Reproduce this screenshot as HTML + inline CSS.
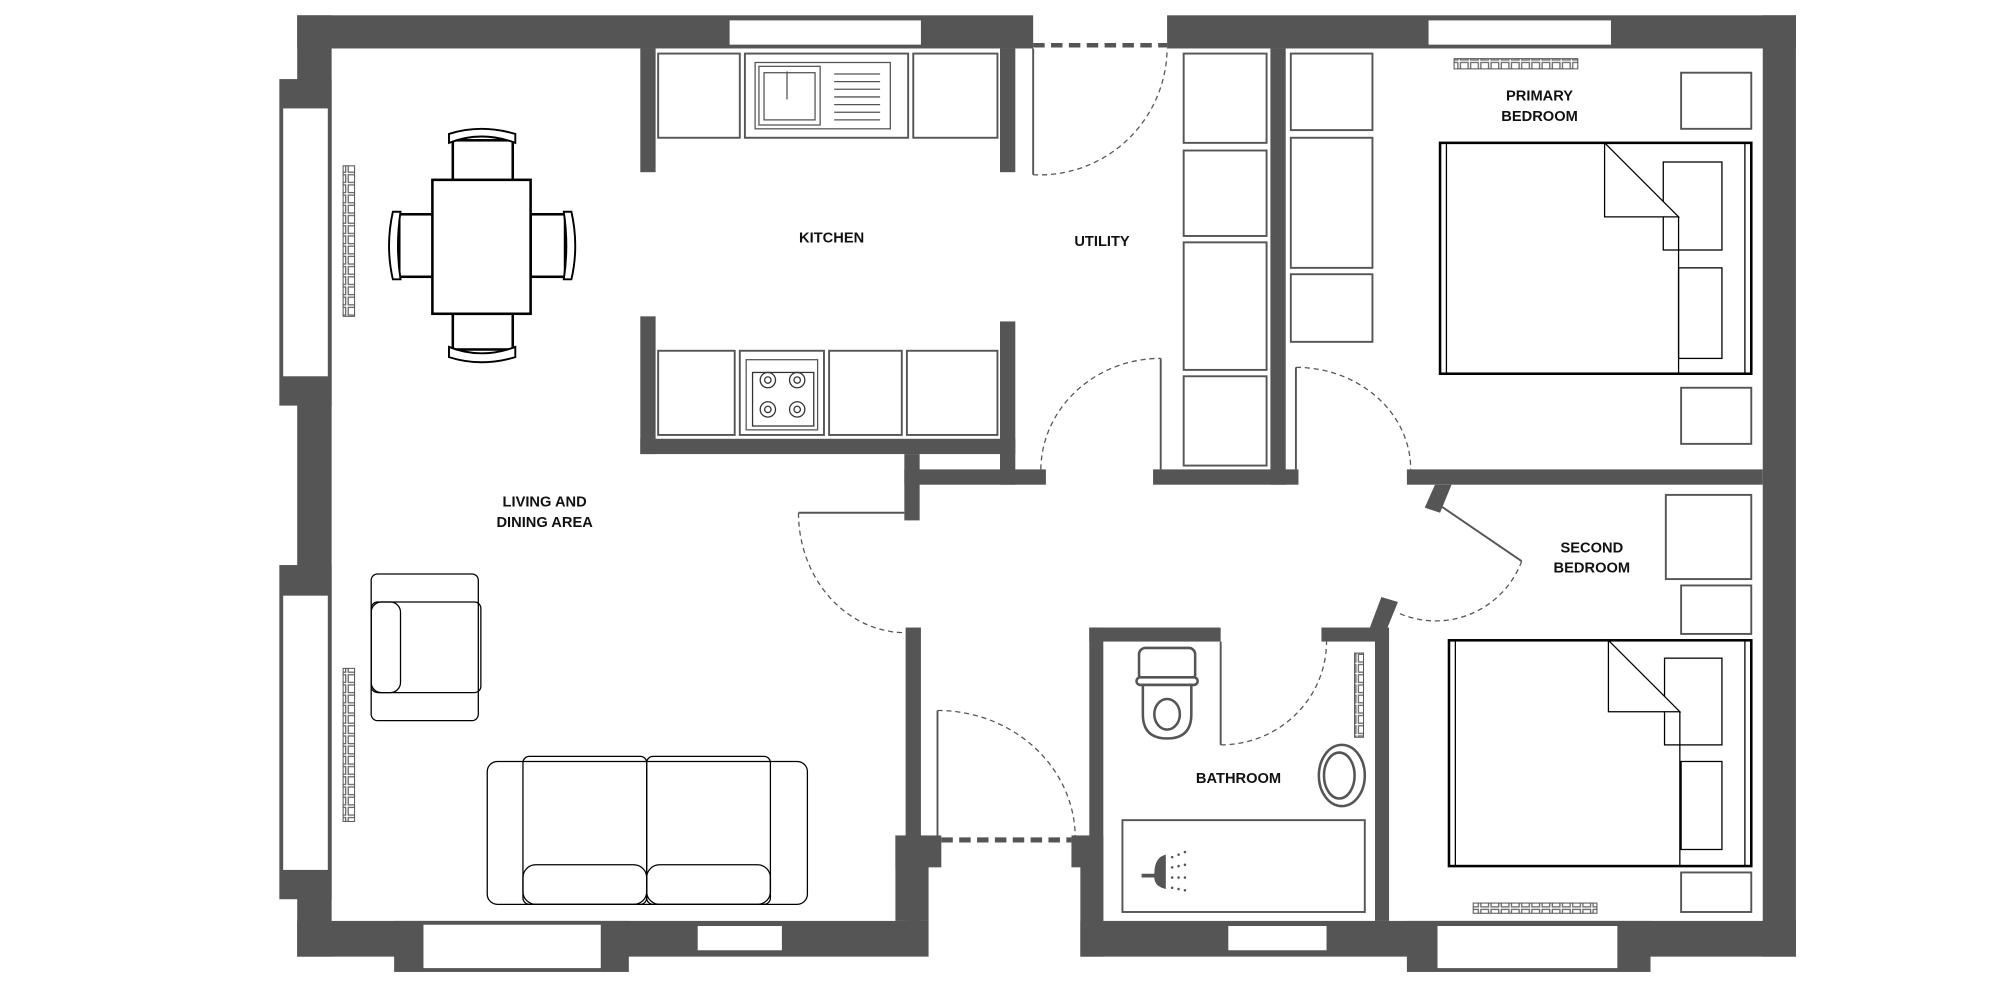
<!DOCTYPE html>
<html><head><meta charset="utf-8"><style>
html,body{margin:0;padding:0;background:#fff;width:2000px;height:1000px;overflow:hidden}
svg{display:block}
text{font-family:"Liberation Sans",sans-serif;font-weight:bold;font-size:11.5px;fill:#111;text-anchor:middle}
</style></head><body>
<svg width="2000" height="1000" viewBox="0 0 1568 784" preserveAspectRatio="none">
<defs>
<pattern id="rad" width="8" height="8" patternUnits="userSpaceOnUse"><rect x="1" y="1" width="6" height="6" fill="none" stroke="#666" stroke-width="1"/></pattern>
</defs>
<g fill="#555">
<!-- outer walls -->
<rect x="233" y="12" width="577" height="26"/>
<rect x="915" y="12" width="493" height="26"/>
<rect x="233" y="12" width="27" height="738"/>
<rect x="219" y="62" width="41" height="256"/>
<rect x="219" y="443" width="41" height="262"/>
<rect x="233" y="722" width="495" height="28"/>
<rect x="309" y="722" width="184" height="40"/>
<rect x="1382" y="12" width="26" height="738"/>
<rect x="847" y="722" width="561" height="28"/>
<rect x="1103" y="722" width="191" height="40"/>
<!-- interior -->
<rect x="502" y="38" width="12" height="97"/>
<rect x="502" y="248" width="12" height="108"/>
<rect x="502" y="344" width="294" height="12"/>
<rect x="784" y="38" width="12" height="97"/>
<rect x="784" y="252" width="12" height="128"/>
<rect x="709" y="356" width="12" height="52"/>
<rect x="709" y="368" width="111" height="12"/>
<rect x="710" y="492" width="12" height="230"/>
<rect x="702" y="655" width="36" height="25"/>
<rect x="702" y="655" width="26" height="67"/>
<rect x="840" y="655" width="15" height="25"/>
<rect x="847" y="655" width="18" height="95"/>
<rect x="854" y="492" width="11" height="230"/>
<rect x="854" y="492" width="103" height="11"/>
<rect x="1036" y="492" width="53" height="11"/>
<rect x="1078" y="492" width="11" height="230"/>
<polygon points="1083,468 1096,472 1087,494 1074,492"/>
<rect x="1103" y="368" width="279" height="12"/>
<polygon points="1125,380 1138,380 1129,402 1117,398"/>
<rect x="996" y="38" width="12" height="342"/>
<rect x="904" y="368" width="114" height="12"/>
</g>
<g fill="#fff">
<rect x="222" y="85" width="35" height="210"/>
<rect x="222" y="467" width="35" height="215"/>
<rect x="332" y="725" width="139" height="34"/>
<rect x="547" y="726" width="66" height="19"/>
<rect x="963" y="726" width="77" height="19"/>
<rect x="1127" y="726" width="141" height="33"/>
<rect x="572" y="16" width="150" height="19"/>
<rect x="1120" y="16" width="143" height="19"/>
</g>
<!-- doors -->
<g fill="none" stroke="#555">
<line x1="810" y1="35.5" x2="915" y2="35.5" stroke-width="3.5" stroke-dasharray="9,5"/>
<line x1="738" y1="658.5" x2="840" y2="658.5" stroke-width="4" stroke-dasharray="9,5"/>
<g stroke-width="1" stroke-dasharray="4,3">
<path d="M810,137 A100,100 0 0 0 915,38"/>
<path d="M626,402 A84,94 0 0 0 709,496"/>
<path d="M735,557 A108,100 0 0 1 843,657"/>
<path d="M816,368 A94,88 0 0 1 910,281"/>
<path d="M1016,288 A90,80 0 0 1 1106,368"/>
<path d="M1193,440 A72,72 0 0 1 1095,480"/>
<path d="M957,584 A83,81 0 0 0 1040,503"/>
</g>
<g stroke-width="1.5">
<line x1="810" y1="38" x2="810" y2="137"/>
<line x1="626" y1="402" x2="709" y2="402"/>
<line x1="735" y1="557" x2="735" y2="657"/>
<line x1="910" y1="281" x2="910" y2="368"/>
<line x1="1016" y1="288" x2="1016" y2="368"/>
<line x1="1130" y1="397" x2="1193" y2="440"/>
<line x1="957" y1="503" x2="957" y2="584"/>
</g>
</g>
<!-- cabinets -->
<g fill="none" stroke="#555" stroke-width="1.5">
<rect x="516" y="42" width="64" height="66"/><rect x="584" y="42" width="128" height="66"/><rect x="716" y="42" width="66" height="66"/>
<rect x="592" y="49" width="106" height="52" stroke-width="1"/><rect x="595" y="52" width="48" height="46" stroke-width="1"/><rect x="599" y="57" width="40" height="37" stroke-width="1"/>
<rect x="516" y="275" width="60" height="66"/><rect x="580" y="275" width="66" height="66"/><rect x="650" y="275" width="57" height="66"/><rect x="711" y="275" width="71" height="66"/>
<rect x="585" y="282" width="56" height="55" stroke-width="1"/>
<rect x="928" y="42" width="65" height="70"/><rect x="928" y="118" width="65" height="67"/><rect x="928" y="190" width="65" height="100"/><rect x="928" y="295" width="65" height="70"/>
<rect x="1012" y="42" width="64" height="60"/><rect x="1012" y="108" width="64" height="102"/><rect x="1012" y="215" width="64" height="53"/>
<rect x="1318" y="57" width="55" height="44"/><rect x="1318" y="304" width="55" height="44"/>
<rect x="1306" y="388" width="67" height="66"/><rect x="1318" y="459" width="55" height="38"/><rect x="1318" y="684" width="55" height="31"/>
<rect x="880" y="643" width="190" height="72"/>
</g>
<g stroke="#555" stroke-width="1">
<line x1="654" y1="58" x2="690" y2="58"/><line x1="654" y1="64" x2="690" y2="64"/><line x1="654" y1="70" x2="690" y2="70"/><line x1="654" y1="76" x2="690" y2="76"/><line x1="654" y1="82" x2="690" y2="82"/><line x1="654" y1="88" x2="690" y2="88"/><line x1="654" y1="94" x2="690" y2="94"/>
<line x1="617" y1="56" x2="617" y2="78"/>
</g>
<g fill="none" stroke="#333" stroke-width="1">
<rect x="590" y="292" width="48" height="42"/>
<circle cx="602" cy="298" r="6"/><circle cx="625" cy="298" r="6"/><circle cx="602" cy="321" r="6"/><circle cx="625" cy="321" r="6"/>
<circle cx="602" cy="298" r="2.5"/><circle cx="625" cy="298" r="2.5"/><circle cx="602" cy="321" r="2.5"/><circle cx="625" cy="321" r="2.5"/>
</g>
<!-- dining -->
<g fill="#fff" stroke="#000" stroke-width="2">
<rect x="355" y="110" width="47" height="32"/><path d="M352,112 Q377,102 404,112 L404,105 Q377,97 352,105Z" stroke-width="1.5"/>
<rect x="355" y="246" width="47" height="28"/><path d="M352,272 Q377,282 404,272 L404,280 Q377,288 352,280Z" stroke-width="1.5"/>
<rect x="313" y="168" width="27" height="49"/><rect x="416" y="168" width="27" height="49"/>
<path d="M308,166 Q302,193 308,219 L314,219 Q310,193 314,166Z" stroke-width="1.5"/>
<path d="M448,166 Q454,193 448,219 L442,219 Q446,193 442,166Z" stroke-width="1.5"/>
<rect x="339" y="141" width="77" height="105"/>
</g>
<!-- living -->
<g fill="none" stroke="#000" stroke-width="1">
<rect x="291" y="450" width="84" height="115" rx="5"/><rect x="291" y="472" width="86" height="71" rx="5"/><rect x="291" y="472" width="23" height="71" rx="8"/>
<rect x="382" y="597" width="251" height="112" rx="8"/>
<rect x="410" y="593" width="97" height="116" rx="5"/><rect x="507" y="593" width="97" height="116" rx="5"/>
<rect x="410" y="678" width="97" height="31" rx="10"/><rect x="507" y="678" width="97" height="31" rx="10"/>
</g>
<!-- beds -->
<g fill="#fff" stroke="#000">
<rect x="1129" y="112" width="244" height="181" stroke-width="2"/>
<line x1="1134" y1="112" x2="1134" y2="293"/><line x1="1368" y1="112" x2="1368" y2="293"/>
<rect x="1304" y="127" width="46" height="69"/><rect x="1316" y="210" width="34" height="71"/>
<line x1="1316" y1="170" x2="1316" y2="293"/>
<polygon points="1258,112 1316,170 1258,170"/>
<rect x="1136" y="502" width="237" height="177" stroke-width="2"/>
<line x1="1141" y1="502" x2="1141" y2="679"/><line x1="1368" y1="502" x2="1368" y2="679"/>
<rect x="1305" y="516" width="45" height="68"/><rect x="1318" y="597" width="32" height="69"/>
<line x1="1317" y1="558" x2="1317" y2="679"/>
<polygon points="1261,502 1317,558 1261,558"/>
</g>
<!-- radiators -->
<rect x="269" y="130" width="9" height="118" fill="url(#rad)" stroke="#555" stroke-width="0.8"/>
<rect x="269" y="524" width="9" height="120" fill="url(#rad)" stroke="#555" stroke-width="0.8"/>
<rect x="1140" y="46" width="97" height="8" fill="url(#rad)" stroke="#555" stroke-width="0.8"/>
<rect x="1155" y="708" width="97" height="8" fill="url(#rad)" stroke="#555" stroke-width="0.8"/>
<rect x="1062" y="512" width="7" height="66" fill="url(#rad)" stroke="#555" stroke-width="0.8"/>
<!-- bathroom fixtures -->
<g fill="#fff" stroke="#555" stroke-width="2">
<rect x="893" y="508" width="44" height="26" rx="5"/>
<rect x="891" y="531" width="48" height="6" rx="3"/>
<path d="M896,537 L934,537 L934,560 Q934,579 915,579 Q896,579 896,560Z"/>
<ellipse cx="915" cy="560" rx="10" ry="12"/>
<ellipse cx="1052" cy="608" rx="18" ry="24"/>
<ellipse cx="1050" cy="608" rx="12" ry="18"/>
</g>
<path d="M895,685 L905,685 Q905,672 914,670 L914,697 Q905,695 905,688 L895,688Z" fill="#555"/>
<g fill="#555"><circle cx="919" cy="672" r="1"/><circle cx="924" cy="670" r="1"/><circle cx="929" cy="668" r="1"/><circle cx="919" cy="680" r="1"/><circle cx="924" cy="679" r="1"/><circle cx="929" cy="678" r="1"/><circle cx="919" cy="688" r="1"/><circle cx="924" cy="688" r="1"/><circle cx="929" cy="688" r="1"/><circle cx="919" cy="696" r="1"/><circle cx="924" cy="697" r="1"/><circle cx="929" cy="698" r="1"/></g>
<!-- labels -->
<text x="652" y="190">KITCHEN</text>
<text x="864" y="193">UTILITY</text>
<text x="1207" y="79">PRIMARY</text><text x="1207" y="95">BEDROOM</text>
<text x="427" y="397">LIVING AND</text><text x="427" y="413">DINING AREA</text>
<text x="1248" y="433">SECOND</text><text x="1248" y="449">BEDROOM</text>
<text x="971" y="614">BATHROOM</text>
</svg>
</body></html>
